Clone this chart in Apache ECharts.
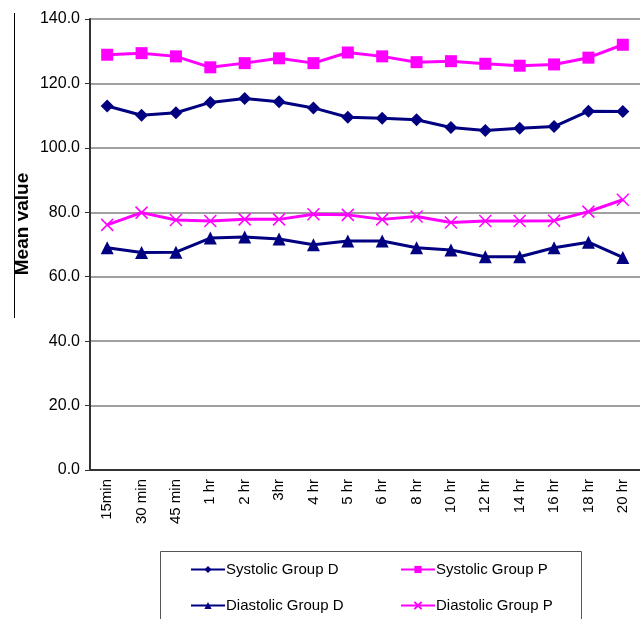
<!DOCTYPE html>
<html><head><meta charset="utf-8">
<script src="https://cdn.jsdelivr.net/npm/echarts@6/dist/echarts.min.js"></script>
<style>html,body{margin:0;padding:0;background:#fff}#c{width:640px;height:619px}</style>
</head><body><div id="c"></div>
<script>
const categories = ["15min","30 min","45 min","1 hr","2 hr","3hr","4 hr","5 hr","6 hr","8 hr","10 hr","12 hr","14 hr","16 hr","18 hr","20 hr"];
const systolicD = [113.0,110.1,110.9,114.1,115.3,114.3,112.4,109.5,109.2,108.7,106.3,105.4,106.1,106.6,111.4,111.3];
const systolicP = [128.9,129.4,128.4,125.0,126.3,127.8,126.3,129.6,128.4,126.6,126.9,126.1,125.5,125.9,128.0,132.0];
const diastolicD = [69.0,67.5,67.6,72.0,72.3,71.7,69.9,71.1,71.1,69.0,68.3,66.2,66.2,69.0,70.7,66.0];
const diastolicP = [76.1,79.9,77.6,77.3,77.8,77.8,79.4,79.2,77.8,78.7,76.8,77.3,77.3,77.4,80.2,83.9];
const yTicks = [0,20,40,60,80,100,120,140];
const seriesNames = ['Systolic Group D','Systolic Group P','Diastolic Group D','Diastolic Group P'];

const navy = '#000080', magenta = '#FF00FF';
const font = 'Liberation Sans, Arial, sans-serif';
const chart = echarts.init(document.getElementById('c'), null, {renderer:'canvas'});
function s(name, data, color, symbol, size){
  return {name, type:'line', data, symbol, symbolSize:size, showSymbol:true,
    lineStyle:{color, width:3}, itemStyle:{color, borderWidth:0}, animation:false};
}
const series = [
  s(seriesNames[0], systolicD, navy, 'diamond', 13),
  s(seriesNames[1], systolicP, magenta, 'rect', 12),
  s(seriesNames[2], diastolicD, navy, 'triangle', 13),
  Object.assign(s(seriesNames[3], diastolicP, magenta, 'path://M0,0 L10,10 M10,0 L0,10', 12),
    {itemStyle:{color:'none', borderColor:magenta, borderWidth:1.5}})
];
const legendPos = [[190,562],[400,562],[190,598],[400,598]];
const legends = seriesNames.map((n,i)=>({
  show:true, left:legendPos[i][0], top:legendPos[i][1], itemWidth:34, itemHeight:9, itemGap:4,
  padding:0, textStyle:{fontFamily:font, fontSize:15, color:'#000', padding:[0,0,0,-4]},
  data:[n]
}));
chart.setOption({
  animation:false,
  grid:{left:90, top:19, width:560, height:451},
  xAxis:{type:'category', data:categories, boundaryGap:true,
    axisLine:{lineStyle:{color:'#333', width:2}}, axisTick:{show:false},
    axisLabel:{rotate:90, color:'#000', fontFamily:font, fontSize:15, margin:9}},
  yAxis:{type:'value', min:0, max:140, interval:20,
    axisLine:{show:true, lineStyle:{color:'#333', width:2}},
    axisTick:{show:true, length:5, lineStyle:{color:'#333'}},
    splitLine:{lineStyle:{color:'#808080', width:1.5}},
    axisLabel:{color:'#000', fontFamily:font, fontSize:16, margin:10,
      formatter:v=> yTicks.includes(v)? v.toFixed(1) : ''}},
  legend:legends,
  graphic:[
    {type:'line', shape:{x1:14.5,y1:13,x2:14.5,y2:318}, style:{stroke:'#000', lineWidth:1}},
    {type:'text', x:23, y:224, rotation:Math.PI/2,
      style:{text:'Mean value', fill:'#000', font:'bold 19px Liberation Sans, Arial, sans-serif', align:'center', verticalAlign:'middle'}},
    {type:'rect', shape:{x:160.5,y:551.5,width:421,height:80}, style:{fill:'none', stroke:'#555', lineWidth:1}}
  ],
  series
});
</script></body></html>
